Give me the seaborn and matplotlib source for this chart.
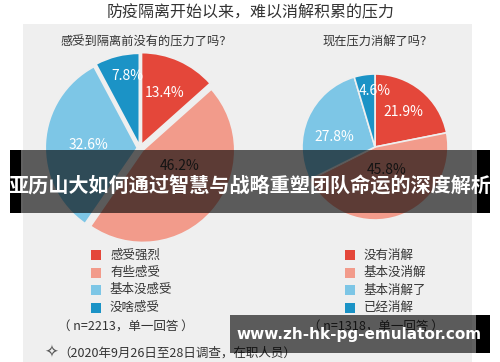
import matplotlib
matplotlib.use("Agg")
import numpy as np
import matplotlib.pyplot as plt
import matplotlib.patches as mpatches
import seaborn as sns

sns.set_theme(style="white")
plt.rcParams['font.family'] = ['Noto Sans CJK SC', 'DejaVu Sans']

# data
title = "防疫隔离开始以来，难以消解积累的压力"
left_q = "感受到隔离前没有的压力了吗？"
right_q = "现在压力消解了吗？"
left_labels = ["感受强烈", "有些感受", "基本没感受", "没啥感受"]
left_vals = [13.4, 46.2, 32.6, 7.8]
right_labels = ["没有消解", "基本没消解", "基本消解了", "已经消解"]
right_vals = [21.9, 45.8, 27.8, 4.6]
left_note = "（ n=2213，单一回答 ）"
right_note = "（ n=1318，单一回答 ）"
foot = "（2020年9月26日至28日调查，在职人员）"
banner = "亚历山大如何通过智慧与战略重塑团队命运的深度解析"
site = "www.zh-hk-pg-emulator.com"

colors = sns.color_palette(["#e4473a", "#f29b8b", "#7dc6e6", "#1b93c6"])
pct_colors = ["white", "#333333", "white", "white"]
panel = "#efefef"

W, H = 500, 362
fig = plt.figure(figsize=(W / 100, H / 100), dpi=100)
fig.patch.set_facecolor("white")

# background layer in pixel coords
bg = fig.add_axes([0, 0, 1, 1], zorder=0)
bg.set_xlim(0, W)
bg.set_ylim(H, 0)
bg.axis("off")
bg.add_patch(mpatches.Rectangle((23, 24), 449, 340, color=panel, lw=0))
bg.text(251, 13, title, ha="center", va="center", fontsize=11.5, color="#333333")
bg.text(146, 42, left_q, ha="center", va="center", fontsize=8.8, color="#333333")
bg.text(378, 42, right_q, ha="center", va="center", fontsize=8.8, color="#333333")


def legend(x, labels):
    for i, lab in enumerate(labels):
        y = 255 + i * 17.5
        bg.add_patch(mpatches.Rectangle((x, y - 5), 10, 10, color=colors[i], lw=0))
        bg.text(x + 19, y, lab, ha="left", va="center", fontsize=9, color="#333333")


legend(91, left_labels)
legend(345, right_labels)
bg.text(126, 327, left_note, ha="center", va="center", fontsize=9, color="#333333")
bg.text(376, 327, right_note, ha="center", va="center", fontsize=9, color="#333333")
bg.text(44, 353, "✧", ha="left", va="center", fontsize=12, color="#555555",
        family=["DejaVu Sans"])
bg.text(58, 353, foot, ha="left", va="center", fontsize=9, color="#333333")


def pie(cx, cy, r, vals, explode, radii, shifts):
    ax = fig.add_axes([(cx - r) / W, (H - cy - r) / H, 2 * r / W, 2 * r / H], zorder=1)
    wedges, texts, autos = ax.pie(vals, colors=colors, startangle=90, counterclock=False,
                                  explode=explode, autopct="%.1f%%", normalize=True,
                                  wedgeprops=dict(edgecolor=panel, linewidth=1.2),
                                  textprops=dict(fontsize=10))
    for i, t in enumerate(autos):
        x, y = t.get_position()
        a = np.arctan2(y, x) + np.radians(shifts[i])
        t.set_position((radii[i] * np.cos(a), radii[i] * np.sin(a)))
        t.set_color(pct_colors[i])
    ax.set_xlim(-1, 1)
    ax.set_ylim(-1, 1)
    ax.set_aspect("equal")
    for w in wedges:
        w.set_clip_on(False)
    ax.axis("off")


pie(140, 148, 92, left_vals, [0.04, 0.04, 0.03, 0.03],
    [0.66, 0.47, 0.56, 0.8], [0, 17, 0, -4])
pie(375, 147, 73, right_vals, [0, 0, 0, 0],
    [0.62, 0.36, 0.57, 0.77], [0, 8, 10, -8])

# overlay banners
ov = fig.add_axes([0, 0, 1, 1], zorder=10)
ov.set_xlim(0, W)
ov.set_ylim(H, 0)
ov.axis("off")
ov.patch.set_alpha(0)
ov.add_patch(mpatches.Rectangle((10, 150), 480, 63, color="black", alpha=0.62, lw=0))
ov.add_patch(mpatches.Rectangle((10, 150), 11, 63, color="black", lw=0))
ov.add_patch(mpatches.Rectangle((477, 150), 13, 63, color="black", lw=0))
ov.text(250, 186, banner, ha="center", va="center", fontsize=14.5, color="white",
        fontweight="bold")
ov.add_patch(mpatches.Rectangle((230, 315), 260, 38, color="black", alpha=0.62, lw=0))
ov.add_patch(mpatches.Rectangle((476, 315), 14, 38, color="black", lw=0))
ov.text(359, 335, site, ha="center", va="center", fontsize=11, color="white",
        fontweight="bold", family=["DejaVu Sans"])

fig.savefig("out.png", dpi=100)
